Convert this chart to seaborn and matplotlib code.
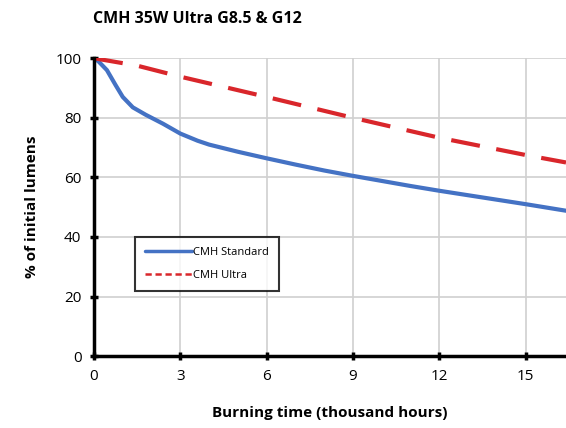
import seaborn as sns
import matplotlib.pyplot as plt
import pandas as pd

# burning time (thousand hours) and % of initial lumens
std_hours = [0, 0.15, 0.45, 0.75, 1.0, 1.35, 1.8, 2.4, 3, 3.6, 4, 5, 6, 7, 8, 9, 10, 11, 12,
             13, 14, 15, 16.4]
std_lumens = [100, 99, 96, 91, 87, 83.5, 81, 78, 74.7, 72.3, 71, 68.6, 66.4, 64.3, 62.3, 60.5,
              58.8, 57.1, 55.5, 54, 52.5, 51, 48.8]

ultra_hours = [0, 1.5, 3, 6, 9, 12, 15, 16.4]
ultra_lumens = [100, 97.5, 93.8, 87, 80, 73.3, 67.5, 65]

x_ticks = [0, 3, 6, 9, 12, 15]
y_ticks = [0, 20, 40, 60, 80, 100]

df_std = pd.DataFrame({"hours": std_hours, "lumens": std_lumens})
df_ultra = pd.DataFrame({"hours": ultra_hours, "lumens": ultra_lumens})

sns.set_theme(style="white")
plt.rcParams['font.family'] = ['Open Sans', 'DejaVu Sans']
plt.rcParams['text.color'] = 'black'
plt.rcParams['axes.labelcolor'] = 'black'
plt.rcParams['xtick.color'] = 'black'
plt.rcParams['ytick.color'] = 'black'

fig = plt.figure(figsize=(5.66, 4.28), dpi=100)
ax = fig.add_axes([0.166, 0.168, 0.834, 0.696])

sns.lineplot(data=df_std, x="hours", y="lumens", ax=ax, color="#4472C4", linewidth=3,
             label="CMH Standard")
sns.lineplot(data=df_ultra, x="hours", y="lumens", ax=ax, color="#D9262B", linewidth=3,
             dashes=False, label="CMH Ultra")
ax.lines[1].set_dashes([7, 4])

ax.set_xlim(0, 16.4)
ax.set_ylim(0, 100)
ax.set_xticks(x_ticks)
ax.set_yticks(y_ticks)
ax.grid(True, color="#d0d0d0", linewidth=1.2)
ax.set_axisbelow(True)

for s in ["top", "right"]:
    ax.spines[s].set_visible(False)
for s in ["left", "bottom"]:
    ax.spines[s].set_color("black")
    ax.spines[s].set_linewidth(2.5)

ax.tick_params(axis="both", direction="inout", length=6, width=2.5, color="black",
               labelsize=11, pad=6, bottom=True, left=True)

ax.set_xlabel("Burning time (thousand hours)", fontsize=11, fontweight="bold", labelpad=16)
ax.set_ylabel("% of initial lumens", fontsize=11, fontweight="bold", labelpad=12)
fig.text(0.164, 0.955, "CMH 35W Ultra G8.5 & G12", fontsize=11.5, fontweight="bold",
         ha="left", va="center")

leg = ax.legend(loc="lower left", bbox_to_anchor=(0.075, 0.2), fontsize=8,
                frameon=True, fancybox=False, edgecolor="black", handlelength=4.2,
                borderpad=0.9, labelspacing=1.1, handletextpad=0.1)
leg.get_frame().set_linewidth(1.5)
for line in leg.get_lines():
    line.set_linewidth(2.5)
leg.get_lines()[1].set_linewidth(1.8)
leg.get_lines()[1].set_dashes([2.5, 1.5])

fig.savefig("out.png", dpi=100)
